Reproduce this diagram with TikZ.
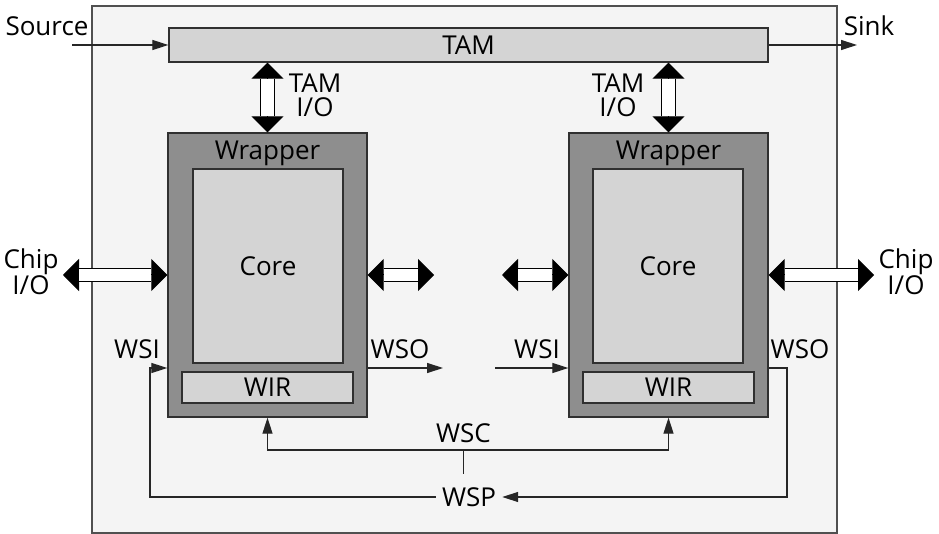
\documentclass[tikz,border=0pt]{standalone}
\usepackage{fontspec}
\setmainfont{Open Sans}
\usetikzlibrary{arrows.meta}
\definecolor{chipbg}{HTML}{F4F4F4}
\definecolor{chipline}{HTML}{505050}
\definecolor{boxline}{HTML}{303030}
\definecolor{wrapfill}{HTML}{8E8E8E}
\definecolor{lightfill}{HTML}{D4D4D4}

% wide two-headed arrow: hollow shaft, solid heads
\newcommand\fatarrow[2]{%
  \draw[line width=1pt,
        {Triangle[length=16pt,width=32pt]}-{Triangle[length=16pt,width=32pt]}] #1 -- #2;
  \draw[line width=1.2pt, double=white, double distance=12.5pt,
        shorten <=16pt, shorten >=16pt] #1 -- #2;
}

\begin{document}
\begin{tikzpicture}[x=1pt, y=-1pt,
  txt/.style={font=\fontsize{26}{24}\selectfont, inner sep=0pt},
  blk/.style={draw=boxline, line width=1.3pt, inner sep=0pt, txt},
  sig/.style={draw=black!85, line width=1.2pt},
  tip/.style={-{Triangle[length=16pt,width=10pt]}}]

\useasboundingbox (0,0) rectangle (939,534);
\fill[white] (0,0) rectangle (939,534);

% chip outline
\draw[fill=chipbg, draw=chipline, line width=1.3pt] (92,6) rectangle (837,533);

% TAM bus
\node[blk, fill=lightfill, minimum width=599pt, minimum height=34pt] (tam) at (468.5,45) {TAM};

% wrapped cores
\node[blk, fill=wrapfill, minimum width=199pt, minimum height=284pt] (wl) at (267.5,275) {};
\node[blk, fill=lightfill, minimum width=150pt, minimum height=194pt] (corel) at (268,266) {Core};
\node[blk, fill=lightfill, minimum width=171pt, minimum height=31pt] (wirl) at (267.5,387.5) {WIR};
\node[txt, anchor=base] (wlabl) at (267.5,160) {Wrapper};

\node[blk, fill=wrapfill, minimum width=199pt, minimum height=284pt] (wr) at (668.5,275) {};
\node[blk, fill=lightfill, minimum width=150pt, minimum height=194pt] (corer) at (668,266) {Core};
\node[blk, fill=lightfill, minimum width=171pt, minimum height=31pt] (wirr) at (668.5,387.5) {WIR};
\node[txt, anchor=base] (wlabr) at (668.5,160) {Wrapper};

% external labels
\node[txt, anchor=base] (src) at (47,36) {Source};
\node[txt, anchor=base] (snk) at (869,36) {Sink};
\node[txt, align=center] (tamiol) at (315,95) {TAM\\I/O};
\node[txt, align=center] (tamior) at (618,95) {TAM\\I/O};
\node[txt, align=center] (chipl) at (31,272) {Chip\\I/O};
\node[txt, align=center] (chipr) at (906,272) {Chip\\I/O};
\node[txt, anchor=base] (wsil) at (137,358) {WSI};
\node[txt, anchor=base] (wsol) at (400,358) {WSO};
\node[txt, anchor=base] (wsir) at (537,358) {WSI};
\node[txt, anchor=base] (wsor) at (800,358) {WSO};
\node[txt, anchor=base] (wsc) at (463.5,442) {WSC};
\node[txt, inner xsep=6pt] (wsp) at (469,497) {WSP};

% free ends and bends
\coordinate (srcend) at (72,45);
\coordinate (snkend) at (857,45);
\coordinate (cioL) at (63,275);
\coordinate (cioR) at (874,275);
\coordinate (sideL) at (434,275);
\coordinate (sideR) at (502,275);
\coordinate (wsoLend) at (443,368);
\coordinate (wsiRstart) at (495,368);
\coordinate (wscjoin) at (463.5,450);
\coordinate (wsctail) at (463.5,474);
\coordinate (wsoRbend) at (787,368);
\coordinate (wsiLbend) at (150,497);

% TAM source / sink
\draw[sig, tip] (srcend) -- (tam.west);
\draw[sig, tip] (tam.east) -- (snkend);

% wide I/O arrows
\fatarrow{(tam.south -| wl.north)}{(wl.north)}
\fatarrow{(tam.south -| wr.north)}{(wr.north)}
\fatarrow{(cioL)}{(wl.west)}
\fatarrow{(wl.east)}{(sideL)}
\fatarrow{(sideR)}{(wr.west)}
\fatarrow{(wr.east)}{(cioR)}

% serial path
\draw[sig, tip] (wl.east |- wsoLend) -- (wsoLend);
\draw[sig, tip] (wsiRstart) -- (wr.west |- wsiRstart);
\draw[sig, tip] (wr.east |- wsoRbend) -- (wsoRbend) |- (wsp.east);
\draw[sig, tip] (wsp.west) -- (wsiLbend) |- (wl.west |- wsoLend);

% control lines
\draw[sig, tip] (wscjoin) -| (wl.south);
\draw[sig, tip] (wscjoin) -| (wr.south);
\draw[sig] (wscjoin) -- (wsctail);

\end{tikzpicture}
\end{document}
